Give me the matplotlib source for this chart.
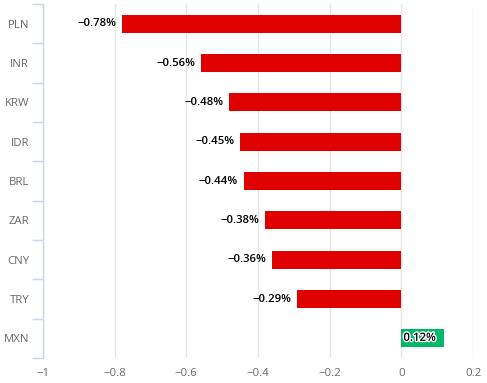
import matplotlib
matplotlib.use("Agg")
import matplotlib.pyplot as plt
import matplotlib.patheffects as pe
import numpy as np

plt.rcParams['font.family'] = ['Open Sans', 'DejaVu Sans']

categories = ["PLN", "INR", "KRW", "IDR", "BRL", "ZAR", "CNY", "TRY", "MXN"]
values = [-0.78, -0.56, -0.48, -0.45, -0.44, -0.38, -0.36, -0.29, 0.12]
labels = ["\u22120.78%", "\u22120.56%", "\u22120.48%", "\u22120.45%", "\u22120.44%",
          "\u22120.38%", "\u22120.36%", "\u22120.29%", "0.12%"]
xticks = [-1, -0.8, -0.6, -0.4, -0.2, 0, 0.2]
xticklabels = ["\u22121", "\u22120.8", "\u22120.6", "\u22120.4", "\u22120.2", "0", "0.2"]

fig = plt.figure(figsize=(4.87, 3.83), dpi=100)
ax = fig.add_axes([43/487, 1-358/383, (473-43)/487, (358-4)/383])

y = np.arange(len(categories))
colors = ["#e00000" if v < 0 else "#00b868" for v in values]
ax.barh(y, values, height=0.46, color=colors, zorder=3)

for yi, v, lab in zip(y, values, labels):
    if v < 0:
        ax.annotate(lab, (v, yi), xytext=(-4, 0), textcoords="offset points",
                    ha="right", va="center", fontsize=8.2, color="#000000",
                    fontweight="semibold", zorder=4)
    else:
        t = ax.annotate(lab, (0, yi), xytext=(1.5, 0), textcoords="offset points",
                        ha="left", va="center", fontsize=8.2, color="#000000",
                        fontweight="semibold", zorder=4)
        t.set_path_effects([pe.withStroke(linewidth=2, foreground="white")])

ax.set_xlim(-1, 0.2)
ax.set_ylim(len(categories) - 0.5, -0.5)
ax.set_xticks(xticks)
ax.set_xticklabels(xticklabels, fontsize=8.2, color="#666666")
ax.set_yticks(y)
ax.set_yticklabels(categories, fontsize=8.2, color="#666666")
ax.tick_params(axis="y", length=0, pad=10)
ax.tick_params(axis="x", length=0, pad=7)
ax.set_yticks(np.arange(-0.5, len(categories), 1), minor=True)
ax.tick_params(axis="y", which="minor", length=8, color="#ccd6eb", width=1)

ax.grid(axis="x", color="#e6e6e6", linewidth=1, zorder=0)
for s in ["top", "right", "bottom"]:
    ax.spines[s].set_visible(False)
ax.spines["left"].set_color("#ccd6eb")
ax.spines["left"].set_linewidth(1)

fig.savefig("out.png", dpi=100)
